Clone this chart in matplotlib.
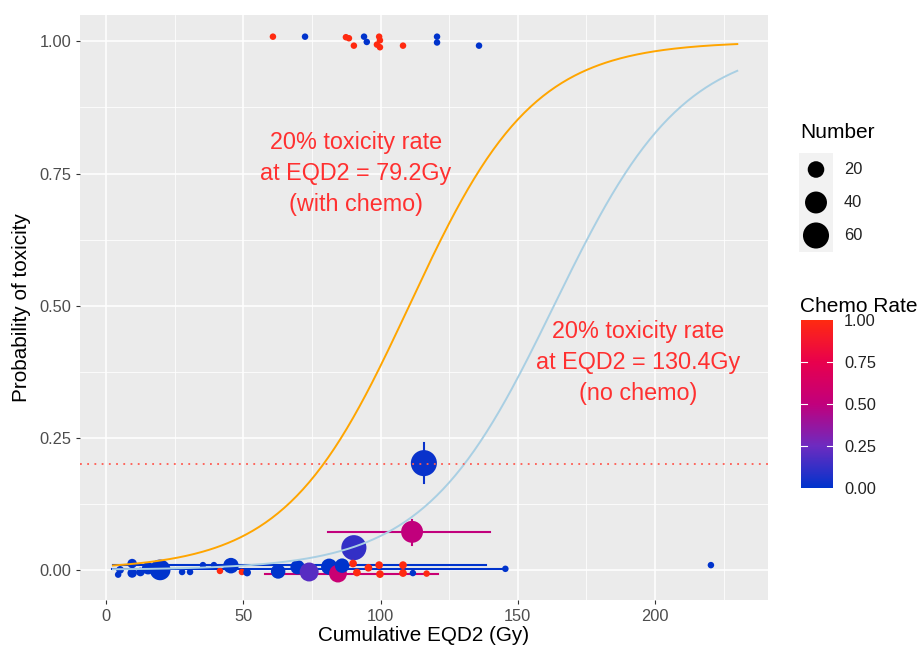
import numpy as np
import matplotlib.pyplot as plt
from matplotlib.colors import LinearSegmentedColormap, Normalize
from matplotlib.cm import ScalarMappable

plt.rcParams['font.family'] = ['Liberation Sans', 'DejaVu Sans']

W, H = 919, 655

# ---- data ----
# patients with toxicity (jittered round 1.0)
dose = [60.8, 87.4, 88.5, 90.3, 99.5, 99.8, 98.7, 99.8, 108.2,
        72.5, 94.0, 95.0, 120.6, 120.6, 135.9,
        # groups in the middle
        115.8, 111.5, 90.3,
        # groups near 0
        4.4, 5.1, 9.5, 9.5, 12.5, 15.3, 19.7, 27.7, 30.6, 35.3, 39.3, 41.5,
        45.5, 49.5, 51.4, 62.7, 69.8, 74.0, 81.3, 84.5, 86.0, 90.0, 91.4,
        95.6, 99.5, 99.8, 108.2, 108.2, 111.8, 116.8, 145.5, 220.4]
prob = [1.009, 1.008, 1.006, 0.992, 1.009, 1.002, 0.994, 0.989, 0.992,
        1.009, 1.009, 0.999, 1.009, 0.998, 0.992,
        0.202, 0.072, 0.042,
        -0.009, 0.000, 0.012, -0.006, -0.004, 0.003, 0.000, -0.004, -0.004, 0.009, 0.009, -0.002,
        0.008, -0.004, -0.005, -0.003, 0.005, -0.004, 0.006, -0.007, 0.008, 0.012, -0.005,
        0.004, 0.009, -0.008, 0.009, -0.006, -0.006, -0.007, 0.002, 0.009]
number = [1, 1, 1, 1, 1, 1, 1, 1, 1,
          1, 1, 1, 1, 1, 1,
          60, 40, 55,
          1, 2, 4, 4, 3, 9, 35, 1, 1, 1, 1, 1,
          17, 1, 2, 14, 14, 28, 19, 24, 14, 2, 2,
          2, 2, 2, 2, 2, 1, 1, 1, 1]
chemo = [1, 1, 1, 1, 1, 1, 1, 1, 1,
         0, 0, 0, 0, 0, 0,
         0.02, 0.5, 0.12,
         0, 0, 0, 0, 0, 0, 0, 0, 0, 0, 0, 1,
         0, 1, 0, 0, 0, 0.2, 0, 0.55, 0, 1, 1,
         1, 1, 1, 1, 1, 0, 1, 0, 0]

# horizontal error bars (dose range)
hbar_y = [0.009, 0.002, -0.007, 0.072]
hbar_lo = [2.5, 2.0, 58.0, 81.0]
hbar_hi = [138.4, 145.4, 121.0, 140.0]
hbar_chemo = [0, 0, 0.55, 0.5]

# vertical error bars
vbar_x = [115.8, 111.5]
vbar_lo = [0.164, 0.047]
vbar_hi = [0.240, 0.095]
vbar_chemo = [0.02, 0.5]

# fitted logistic models: logit(p) = b0 + b1 * EQD2
chemo_b0, chemo_b1 = -4.894, 0.0443
nochemo_b0, nochemo_b1 = -6.92, 0.0424
dose_min, dose_max = 2.5, 230

legend_numbers = [20, 40, 60]

cmap = LinearSegmentedColormap.from_list(
    'chemo', ['#0033CC', '#6D2BC0', '#C1007C', '#E8004D', '#FF2A10'])
norm = Normalize(0, 1)


def marker_area(n):
    d_px = 3.6 + 2.9 * np.sqrt(np.asarray(n, dtype=float))
    return (d_px * 0.72) ** 2


def logistic(x, b0, b1):
    return 1 / (1 + np.exp(-(b0 + b1 * x)))


fig = plt.figure(figsize=(W / 100, H / 100), dpi=100)
ax = fig.add_axes([80 / W, 1 - 600 / H, 688 / W, 585 / H])
ax.set_facecolor('#EBEBEB')
for s in ax.spines.values():
    s.set_visible(False)

ax.set_xlim(-9.5, 241.2)
ax.set_ylim(-0.057, 1.05)
ax.set_xticks([0, 50, 100, 150, 200])
ax.set_xticks([25, 75, 125, 175, 225], minor=True)
ax.set_yticks([0, 0.25, 0.5, 0.75, 1.0])
ax.set_yticks([0.125, 0.375, 0.625, 0.875], minor=True)
ax.set_yticklabels(['0.00', '0.25', '0.50', '0.75', '1.00'])
ax.grid(which='major', color='white', lw=1.1)
ax.grid(which='minor', color='white', lw=0.55)
ax.set_axisbelow(True)
ax.tick_params(which='major', length=3.2, width=0.8, color='#333333',
               labelcolor='#4D4D4D', labelsize=11.8, pad=3)
ax.tick_params(which='minor', length=0)

# error bars
for y, lo, hi, c in zip(hbar_y, hbar_lo, hbar_hi, hbar_chemo):
    ax.plot([lo, hi], [y, y], color=cmap(norm(c)), lw=1.5, zorder=2)
for x, lo, hi, c in zip(vbar_x, vbar_lo, vbar_hi, vbar_chemo):
    ax.plot([x, x], [lo, hi], color=cmap(norm(c)), lw=1.5, zorder=2)

# points
ax.scatter(dose, prob, s=marker_area(number), c=chemo, cmap=cmap, norm=norm,
           linewidths=0, zorder=3)

# fitted curves
xs = np.linspace(dose_min, dose_max, 300)
ax.plot(xs, logistic(xs, chemo_b0, chemo_b1), color='#FFA500', lw=1.4, zorder=4)
ax.plot(xs, logistic(xs, nochemo_b0, nochemo_b1), color='#A9CFE3', lw=1.4, zorder=4)
ax.axhline(0.2, color='#FF5A50', lw=1.3, ls=(0, (1, 3)), zorder=5)

ax.text(91.1, 0.75, '20% toxicity rate\nat EQD2 = 79.2Gy\n(with chemo)',
        ha='center', va='center', color='#FF3030', fontsize=16.8, linespacing=1.45)
ax.text(193.8, 0.393, '20% toxicity rate\nat EQD2 = 130.4Gy\n(no chemo)',
        ha='center', va='center', color='#FF3030', fontsize=16.8, linespacing=1.45)

ax.set_xlabel('Cumulative EQD2 (Gy)', fontsize=14.9, labelpad=2)
ax.set_ylabel('Probability of toxicity', fontsize=14.9, labelpad=6)

# size legend
fig.text(800 / W, 1 - 133 / H, 'Number', fontsize=15, va='center', ha='left')
lax = fig.add_axes([799 / W, 1 - 252 / H, 34 / W, 99 / H])
lax.set_facecolor('#F2F2F2')
lax.set_xlim(0, 1)
lax.set_ylim(0, 3)
lax.set_xticks([])
lax.set_yticks([])
for s in lax.spines.values():
    s.set_visible(False)
ly = [2.5, 1.5, 0.5]
lax.scatter([0.5] * 3, ly, s=marker_area(legend_numbers), color='black', linewidths=0)
for y, n in zip(ly, legend_numbers):
    lax.text(1.32, y, str(n), fontsize=11.8, va='center', ha='left', color='#222222',
             clip_on=False)

# colour legend
fig.text(800 / W, 1 - 306 / H, 'Chemo Rate', fontsize=15, va='center', ha='left')
cax = fig.add_axes([801 / W, 1 - 488 / H, 32 / W, 168 / H])
cb = fig.colorbar(ScalarMappable(norm=norm, cmap=cmap), cax=cax,
                  ticks=[0, 0.25, 0.5, 0.75, 1.0])
cb.outline.set_visible(False)
cb.ax.set_yticklabels(['0.00', '0.25', '0.50', '0.75', '1.00'])
cb.ax.tick_params(length=0, labelsize=11.8, labelcolor='#222222', pad=8)
for v in [0.25, 0.5, 0.75]:
    cax.plot([0, 0.2], [v, v], color='white', lw=0.8, transform=cax.get_yaxis_transform())
    cax.plot([0.8, 1], [v, v], color='white', lw=0.8, transform=cax.get_yaxis_transform())

fig.savefig('out.png', dpi=100)
